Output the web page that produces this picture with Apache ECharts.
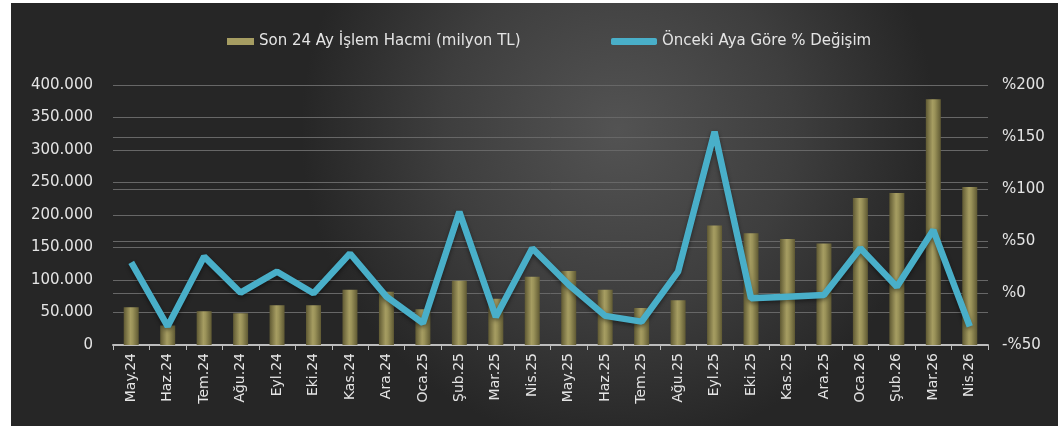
<!DOCTYPE html>
<html>
<head>
<meta charset="utf-8">
<script src="https://cdn.jsdelivr.net/npm/echarts@6/dist/echarts.min.js"></script>
<style>
  html, body { margin: 0; padding: 0; background: #fff; }
  #main { width: 1058px; height: 426px; }
</style>
</head>
<body>
<div id="main"></div>
<script>
var months = ['May.24', 'Haz.24', 'Tem.24', 'Ağu.24', 'Eyl.24', 'Eki.24', 'Kas.24', 'Ara.24',
  'Oca.25', 'Şub.25', 'Mar.25', 'Nis.25', 'May.25', 'Haz.25', 'Tem.25', 'Ağu.25',
  'Eyl.25', 'Eki.25', 'Kas.25', 'Ara.25', 'Oca.26', 'Şub.26', 'Mar.26', 'Nis.26'];

// islem hacmi, bin TL cinsinden okunmus
var volume = [58000, 30000, 52000, 49000, 61000, 61000, 85000, 82000,
  55000, 99000, 71000, 105000, 114000, 85000, 57000, 69000,
  184000, 172000, 163000, 156000, 226000, 234000, 378000, 243000];

// onceki aya gore % degisim
var change = [29.5, -32, 35, 0.3, 20.5, -0.3, 38, -3.5,
  -29, 78, -23, 43, 8, -22, -27.5, 20.5,
  155, -5, -3.5, -2, 43, 6, 60.5, -32];

var volName = 'Son 24 Ay İşlem Hacmi (milyon TL)';
var chgName = 'Önceki Aya Göre % Değişim';

var chart = echarts.init(document.getElementById('main'), null, { renderer: 'canvas' });

var txt = '#e4e4e4';
var font = 'DejaVu Sans';

function thousands(v) {
  if (v === 0) return '0';
  return String(v).replace(/\B(?=(\d{3})+(?!\d))/g, '.');
}

var barColor = new echarts.graphic.LinearGradient(0, 0, 1, 0, [
  { offset: 0, color: '#5f5933' },
  { offset: 0.45, color: '#a69d62' },
  { offset: 0.6, color: '#9a9259' },
  { offset: 1, color: '#5f5933' }
]);

var option = {
  backgroundColor: '#fff',
  textStyle: { fontFamily: font },
  graphic: [{
    type: 'rect',
    z: -10,
    silent: true,
    shape: { x: 11, y: 3, width: 1047, height: 423 },
    style: {
      fill: new echarts.graphic.RadialGradient(0.58, 0.3, 0.75, [
        { offset: 0, color: '#535353' },
        { offset: 0.55, color: '#3e3e3e' },
        { offset: 1, color: '#262626' }
      ])
    }
  }],
  legend: [{
    left: 222,
    top: 29,
    itemWidth: 27,
    itemHeight: 7,
    itemGap: 6,
    textStyle: { color: txt, fontSize: 15, fontFamily: font },
    data: [{ name: volName, icon: 'rect', itemStyle: { color: '#a69d62' } }]
  }, {
    left: 606,
    top: 29,
    itemWidth: 46,
    itemHeight: 7,
    textStyle: { color: txt, fontSize: 15, fontFamily: font },
    data: [{ name: chgName, icon: 'roundRect' }]
  }],
  grid: { left: 113, right: 70, top: 85, bottom: 81 },
  xAxis: {
    type: 'category',
    data: months,
    axisLine: { lineStyle: { color: '#bdbdbd', width: 2 } },
    axisTick: { show: true, length: 5, lineStyle: { color: '#bdbdbd' } },
    axisLabel: { rotate: 90, color: txt, fontSize: 14, margin: 8, fontFamily: font }
  },
  yAxis: [{
    type: 'value',
    min: 0,
    max: 400000,
    interval: 50000,
    axisLine: { show: false },
    axisTick: { show: false },
    splitLine: { lineStyle: { color: '#676767', width: 1 } },
    axisLabel: { color: txt, fontSize: 15, margin: 20, fontFamily: font, formatter: thousands }
  }, {
    type: 'value',
    min: -50,
    max: 200,
    interval: 50,
    position: 'right',
    axisLine: { show: false },
    axisTick: { show: false },
    splitLine: { lineStyle: { color: '#676767', width: 1 } },
    axisLabel: {
      color: txt, fontSize: 15, margin: 14, fontFamily: font,
      formatter: function (v) { return v < 0 ? '-%' + (-v) : '%' + v; }
    }
  }],
  series: [{
    name: volName,
    type: 'bar',
    yAxisIndex: 0,
    barWidth: 15,
    data: volume,
    itemStyle: {
      color: barColor,
      shadowColor: 'rgba(0,0,0,0.6)',
      shadowBlur: 4,
      shadowOffsetX: 2
    }
  }, {
    name: chgName,
    type: 'line',
    yAxisIndex: 1,
    data: change,
    symbol: 'none',
    lineStyle: {
      color: '#49afc9',
      width: 6.5,
      shadowColor: 'rgba(0,0,0,0.45)',
      shadowBlur: 4,
      shadowOffsetY: 2
    },
    itemStyle: { color: '#49afc9' }
  }]
};

chart.setOption(option);
</script>
</body>
</html>
